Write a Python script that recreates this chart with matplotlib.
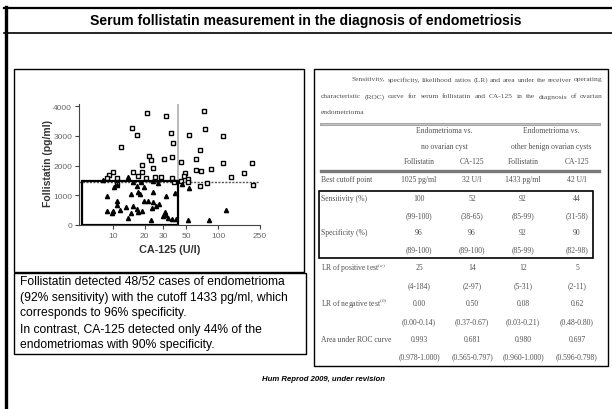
import matplotlib.pyplot as plt
from matplotlib.patches import Rectangle

plt.rcParams['font.family'] = ['Liberation Sans', 'DejaVu Sans']
plt.rcParams['mathtext.fontset'] = 'stix'

# scatter: CA-125 (U/l) against follistatin (pg/ml)
endo_ca125 = [20.9, 31.8, 73.1, 15.3, 16.9, 35.9, 53.4, 75.2, 111.6, 11.9,
              37.5, 22.0, 23.2, 30.6, 36.2, 67.7, 61.7, 44.7, 111.6, 212,
              19.0, 23.9, 15.6, 10.0, 9.2, 8.8, 11.0, 17.2, 18.9, 20.5,
              24.9, 28.6, 36.5, 48.9, 47.7, 51.4, 52.0, 61.1, 68.8, 85.0,
              132, 175, 67.7, 78.4, 216, 44.1, 10.8, 37.8]
endo_fst = [3775, 3654, 3822, 3260, 3035, 3082, 3035, 3227, 3002, 2611,
            2746, 2330, 2174, 2218, 2275, 2521, 2218, 2107, 2084, 2084,
            2027, 1926, 1771, 1771, 1681, 1580, 1570, 1647, 1792, 1580,
            1613, 1603, 1570, 1738, 1647, 1546, 1455, 1849, 1826, 1882,
            1613, 1758, 1311, 1402, 1355, 1469, 1378, 1435]

other_ca125 = [8.0, 14.0, 10.3, 10.9, 8.8, 14.7, 17.4, 17.9, 19.6, 24.1,
               31.9, 38.9, 10.9, 10.8, 19.6, 21.4, 24.2, 25.7, 27.6, 13.3,
               15.6, 16.8, 17.3, 18.8, 23.3, 9.9, 8.8, 9.8, 11.7, 14.8,
               14.0, 31.3, 31.9, 30.1, 33.1, 36.5, 39.5, 23.0, 51.4, 82.5,
               118.7, 53.4, 45.2, 16.8, 18.3, 24.2, 27.0, 15.4]
other_fst = [1523, 1603, 1267, 1344, 965, 1042, 1119, 1042, 1267, 1109,
             965, 1086, 807, 672, 807, 797, 783, 649, 706, 615,
             649, 538, 447, 460, 571, 481, 460, 403, 514, 393,
             235, 447, 336, 313, 225, 202, 202, 168, 158, 178,
             514, 1254, 1388, 1300, 1435, 1490, 1422, 1435]

fst_cutoff = 1433
ca125_cutoff = 42
box_ca125 = [5.1, 42]
box_fst = [10, 1490]
x_ticks = [10, 20, 30, 50, 100, 250]
y_ticks = [0, 1000, 2000, 3000, 4000]

title = 'Serum follistatin measurement in the diagnosis of endometriosis'
summary = [
    'Follistatin detected 48/52 cases of endometrioma',
    '(92% sensitivity) with the cutoff 1433 pg/ml, which',
    'corresponds to 96% specificity.',
    'In contrast, CA-125 detected only 44% of the',
    'endometriomas with 90% specificity.',
]
citation = 'Hum Reprod 2009, under revision'

caption = [
    'Sensitivity, specificity, likelihood ratios (LR) and area under the receiver operating',
    'characteristic (ROC) curve for serum follistatin and CA-125 in the diagnosis of ovarian',
    'endometrioma',
]
group_top = ['Endometrioma vs.', 'Endometrioma vs.']
group_bottom = ['no ovarian cyst', 'other benign ovarian cysts']
col_names = ['Follistatin', 'CA-125', 'Follistatin', 'CA-125']
row_labels = ['Best cutoff point', 'Sensitivity (%)', '', 'Specificity (%)', '',
              'LR of positive test$^{(a)}$', '', 'LR of negative test$^{(b)}$', '',
              'Area under ROC curve', '']
row_values = [
    ['1025 pg/ml', '32 U/l', '1433 pg/ml', '42 U/l'],
    ['100', '52', '92', '44'],
    ['(99-100)', '(38-65)', '(85-99)', '(31-58)'],
    ['96', '96', '92', '90'],
    ['(89-100)', '(89-100)', '(85-99)', '(82-98)'],
    ['25', '14', '12', '5'],
    ['(4-184)', '(2-97)', '(5-31)', '(2-11)'],
    ['0.00', '0.50', '0.08', '0.62'],
    ['(0.00-0.14)', '(0.37-0.67)', '(0.03-0.21)', '(0.48-0.80)'],
    ['0.993', '0.681', '0.980', '0.697'],
    ['(0.978-1.000)', '(0.565-0.797)', '(0.960-1.000)', '(0.596-0.798)'],
]

fig = plt.figure(figsize=(6.12, 4.10), dpi=100)
bg = fig.add_axes([0, 0, 1, 1])
bg.set_xlim(0, 612)
bg.set_ylim(410, 0)
bg.axis('off')

# slide frame
bg.plot([5.5, 5.5], [8, 410], color='black', lw=2.4)
bg.plot([4, 612], [8.5, 8.5], color='black', lw=1.6)
bg.plot([4, 612], [33.5, 33.5], color='black', lw=1.2)
bg.text(306, 21, title, ha='center', va='center', fontsize=10.1, fontweight='bold')

# left panel + summary box
bg.add_patch(Rectangle((13.5, 70), 290, 203, fill=False, ec='black', lw=1.0))
bg.add_patch(Rectangle((13.5, 273.5), 292, 81.5, fill=False, ec='black', lw=1.0))
for txt, y in zip(summary, [282, 298, 313.5, 330, 345.5]):
    bg.text(19.5, y, txt, ha='left', va='center', fontsize=8.7)
bg.text(324, 380, citation, ha='center', va='center', fontsize=5.6,
        fontweight='bold', style='italic')

# table panel
tcol = '#505050'
tfont = ['Liberation Serif', 'DejaVu Serif']
bg.add_patch(Rectangle((313.5, 70), 294, 297, fill=False, ec='black', lw=1.0))

fig.canvas.draw()
renderer = fig.canvas.get_renderer()
cap_y = [80, 97, 113]
cap_size = 5.4
for i, (line, y) in enumerate(zip(caption, cap_y)):
    x0 = 352 if i == 0 else 321
    x1 = 603
    words = line.split(' ')
    if i == len(caption) - 1:
        bg.text(x0, y, line, ha='left', va='center', fontsize=cap_size,
                color=tcol, family=tfont)
        continue
    arts = [bg.text(0, y, w, ha='left', va='center', fontsize=cap_size,
                    color=tcol, family=tfont) for w in words]
    widths = [a.get_window_extent(renderer).width for a in arts]
    gap = (x1 - x0 - sum(widths)) / (len(words) - 1)
    x = x0
    for a, w in zip(arts, widths):
        a.set_x(x)
        x += w + gap

bg.plot([321, 599], [124.5, 124.5], color='#9a9a9a', lw=2.0)
bg.plot([321, 599], [124.5, 124.5], color='#d8d8d8', lw=0.5)
col_x = [419, 472, 523, 577]
group_x = [444, 551]
for gx, t, b in zip(group_x, group_top, group_bottom):
    bg.text(gx, 131, t, ha='center', va='center', fontsize=5.5, color=tcol, family=tfont)
    bg.text(gx, 147, b, ha='center', va='center', fontsize=5.5, color=tcol, family=tfont)
for cx, c in zip(col_x, col_names):
    bg.text(cx, 162, c, ha='center', va='center', fontsize=5.5, color=tcol, family=tfont)
bg.plot([321, 599], [172, 172], color='#7a7a7a', lw=2.4)

row_y = [180, 199, 216, 233, 250, 268, 286, 304, 322, 340, 357]
for label, vals, y in zip(row_labels, row_values, row_y):
    if label:
        bg.text(321, y, label, ha='left', va='center', fontsize=5.5,
                color=tcol, family=tfont)
    for cx, v in zip(col_x, vals):
        bg.text(cx, y, v, ha='center', va='center', fontsize=5.5,
                color=tcol, family=tfont)
bg.add_patch(Rectangle((319, 191.5), 274, 67, fill=False, ec='black', lw=1.2))

# scatter plot
ax = fig.add_axes([79 / 612, 1 - 226 / 410, 181 / 612, 121 / 410])
ax.patch.set_alpha(0)
ax.set_xscale('log')
ax.set_xlim(4.74, 251)
ax.set_ylim(0, 4070)
ax.set_xticks(x_ticks)
ax.set_xticklabels([str(t) for t in x_ticks])
ax.xaxis.set_minor_locator(plt.NullLocator())
ax.set_yticks(y_ticks)
for s in ['top', 'right']:
    ax.spines[s].set_visible(False)
for s in ['left', 'bottom']:
    ax.spines[s].set_linewidth(0.8)
    ax.spines[s].set_color('#444444')
ax.tick_params(labelsize=6, labelcolor='#666666', length=3, width=0.8,
               color='#444444', pad=2)

ax.axvline(ca125_cutoff, color='#b5b5b5', lw=1.3, zorder=1)
ax.hlines(fst_cutoff, 4.74, 251, colors='#555555', linestyles=(0, (1.5, 1)),
          lw=1.0, zorder=1)
ax.add_patch(Rectangle((box_ca125[0], box_fst[0]), box_ca125[1] - box_ca125[0],
                       box_fst[1] - box_fst[0], fill=False, ec='black', lw=1.6,
                       zorder=4))
ax.plot(endo_ca125, endo_fst, 's', mfc='white', mec='black', ms=3.1, mew=1.0,
        clip_on=False, zorder=3)
ax.plot(other_ca125, other_fst, '^', color='black', ms=3.0, clip_on=False, zorder=3)

ax.set_ylabel('Follistatin (pg/ml)', fontsize=7.5, fontweight='bold', color='#333333')
ax.yaxis.set_label_coords(-0.145, 0.52)
ax.set_xlabel('CA-125 (U/l)', fontsize=7.8, fontweight='bold', color='#333333')
ax.xaxis.set_label_coords(0.503, -0.16)

fig.savefig('out.png', dpi=100)
